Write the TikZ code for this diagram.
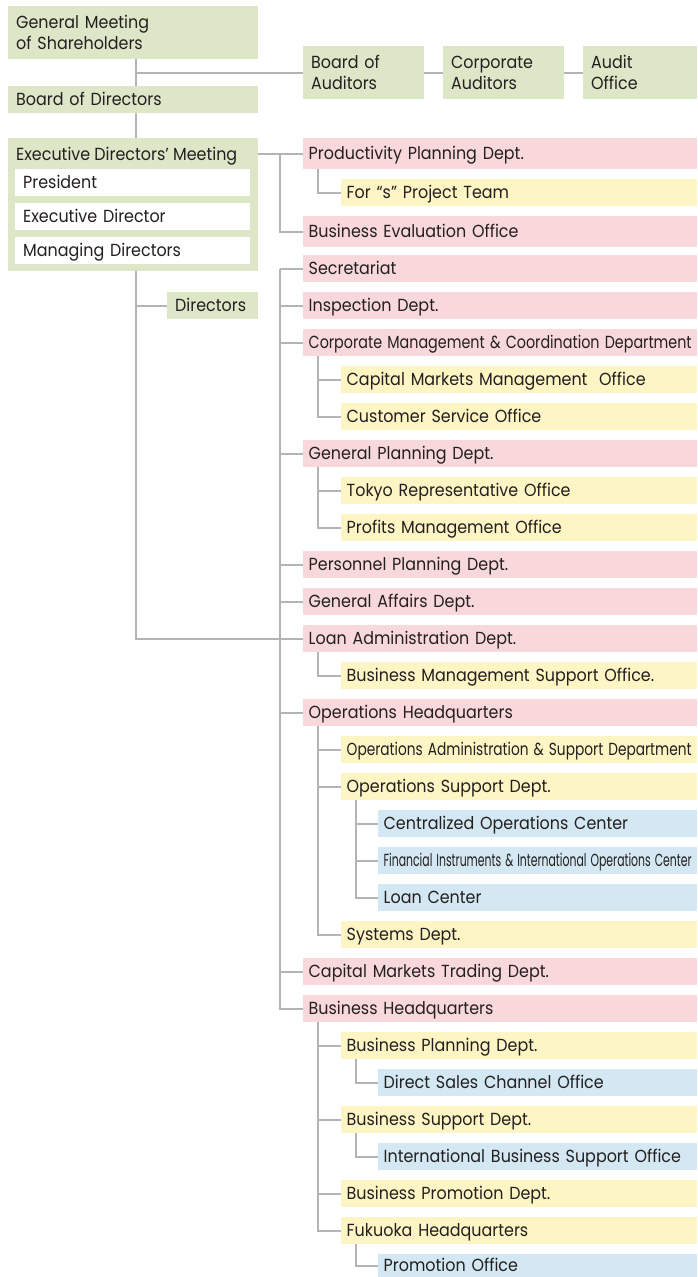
\documentclass[tikz,border=0pt]{standalone}
\usepackage{fontspec}
\setmainfont[FakeStretch=0.91]{Poppins}
\usepackage{graphicx}

\definecolor{greenc}{RGB}{222,230,200}
\definecolor{pinkc}{RGB}{249,216,220}
\definecolor{yellowc}{RGB}{254,245,196}
\definecolor{bluec}{RGB}{211,232,242}
\definecolor{linec}{RGB}{180,180,184}
\definecolor{txt}{RGB}{35,31,32}

% squeeze a label horizontally to a given width
\newcommand\fitto[2]{\resizebox{#1}{\height}{#2}}
% two-line label whose baseline is the first line
\newcommand\stackedtext[2]{\begin{tabular}[t]{@{}l@{}}#1\\#2\end{tabular}}

\begin{document}
\begin{tikzpicture}[x=1pt,y=-1pt,
  every node/.style={font=\fontsize{17.5}{21.5}\selectfont, text=txt},
  box/.style={anchor=north west, inner ysep=0pt, align=left,
    text height=12.2pt, text depth=0pt, minimum height=27pt},
  pinkbox/.style={box, fill=pinkc, inner xsep=5.5pt, text width=383pt},
  yellowbox/.style={box, fill=yellowc, inner xsep=5.5pt, text width=345pt},
  bluebox/.style={box, fill=bluec, inner xsep=5.5pt, text width=308pt},
  greenbox/.style={box, fill=greenc, inner xsep=8pt},
  whitebox/.style={box, fill=white, inner xsep=8pt, text width=219pt},
  twoline/.style={text depth=21.5pt, minimum height=53pt},
  conn/.style={draw=linec, line width=1.7pt}
]
\useasboundingbox (0,0) rectangle (697,1277);
\clip (0,0) rectangle (697,1277);

% ---------- governance column ----------
\coordinate (spine) at (136,0);
\coordinate (bus) at (280,0);

\node[greenbox, twoline, text width=234pt] (gm) at (8,6)
  {\stackedtext{General Meeting}{of Shareholders}};
\node[greenbox, text width=234pt] (bod) at (8,86) {Board of Directors};
\node[greenbox, text width=105pt, twoline] (boa) at (303,46)
  {\stackedtext{Board of}{Auditors}};
\node[greenbox, text width=105pt, twoline] (ca) at (443,46)
  {\stackedtext{Corporate}{Auditors}};
\node[greenbox, text width=98pt, twoline] (ao) at (583,46)
  {\stackedtext{Audit}{Office}};

\node[fill=greenc, anchor=north west, inner sep=0pt,
      minimum width=250pt, minimum height=133pt] (edm) at (8,138) {};
\node[anchor=west, inner sep=0pt, text height=12.2pt, text depth=0pt]
  (edmt) at (16,154) {Executive Directors' Meeting};
\node[whitebox] (pres) at (15,169) {President};
\node[whitebox] (exd) at (15,203) {Executive Director};
\node[whitebox] (mgd) at (15,237) {Managing Directors};
\node[greenbox, text width=75pt] (dir) at (167,292) {Directors};

% ---------- departments ----------
\node[pinkbox, minimum height=31pt] (pp) at (303,138) {Productivity Planning Dept.};
\node[yellowbox] (fst) at (341,179) {For “s” Project Team};
\node[pinkbox, minimum height=31pt] (beo) at (303,216) {Business Evaluation Office};

\node[pinkbox] (sec) at (303,255) {Secretariat};
\node[pinkbox] (insp) at (303,292) {Inspection Dept.};
\node[pinkbox] (cmc) at (303,329)
  {\fitto{383pt}{Corporate Management \& Coordination Department}};
\node[yellowbox] (cmm) at (341,366) {Capital Markets Management~ Office};
\node[yellowbox] (cso) at (341,403) {Customer Service Office};
\node[pinkbox] (gp) at (303,440) {General Planning Dept.};
\node[yellowbox] (tro) at (341,477) {Tokyo Representative Office};
\node[yellowbox] (pmo) at (341,514) {Profits Management Office};
\node[pinkbox] (ppd) at (303,551) {Personnel Planning Dept.};
\node[pinkbox] (gad) at (303,588) {General Affairs Dept.};
\node[pinkbox] (la) at (303,625) {Loan Administration Dept.};
\node[yellowbox] (bms) at (341,662) {Business Management Support Office.};
\node[pinkbox] (ohq) at (303,699) {Operations Headquarters};
\node[yellowbox] (oas) at (341,736)
  {\fitto{345pt}{Operations Administration \& Support Department}};
\node[yellowbox] (osd) at (341,773) {Operations Support Dept.};
\node[bluebox] (coc) at (378,810) {Centralized Operations Center};
\node[bluebox] (fio) at (378,847)
  {\fitto{308pt}{Financial Instruments \& International Operations Center}};
\node[bluebox] (lc) at (378,884) {Loan Center};
\node[yellowbox] (sys) at (341,921) {Systems Dept.};
\node[pinkbox] (cmt) at (303,958) {Capital Markets Trading Dept.};
\node[pinkbox] (bhq) at (303,995) {Business Headquarters};
\node[yellowbox] (bpd) at (341,1032) {Business Planning Dept.};
\node[bluebox] (dsc) at (378,1069) {Direct Sales Channel Office};
\node[yellowbox] (bsd) at (341,1106) {Business Support Dept.};
\node[bluebox] (ibs) at (378,1143) {International Business Support Office};
\node[yellowbox] (bpr) at (341,1180) {Business Promotion Dept.};
\node[yellowbox] (fhq) at (341,1217) {Fukuoka Headquarters};
\node[bluebox, minimum height=23pt] (po) at (378,1254) {Promotion Office};

% ---------- connectors ----------
\draw[conn] (gm.south -| spine) -- (bod.north -| spine);
\draw[conn] (spine |- boa.west) -- (boa.west);
\draw[conn] (boa.east) -- (ca.west);
\draw[conn] (ca.east) -- (ao.west);
\draw[conn] (bod.south -| spine) -- (edm.north -| spine);
\draw[conn] (edm.south -| spine) |- (la.west);
\draw[conn] (spine |- dir.west) -- (dir.west);

\draw[conn] (edm.east |- pp.west) -- (pp.west);
\draw[conn] (bus |- pp.west) |- (beo.west);
\draw[conn] ([xshift=15pt]pp.south west) |- (fst.west);

\draw[conn] (bus |- sec.west) |- (bhq.west);
\foreach \d in {sec,insp,cmc,gp,ppd,gad,ohq,cmt}
  \draw[conn] (bus |- \d.west) -- (\d.west);

\foreach \c in {cmm,cso} \draw[conn] ([xshift=15pt]cmc.south west) |- (\c.west);
\foreach \c in {tro,pmo} \draw[conn] ([xshift=15pt]gp.south west) |- (\c.west);
\draw[conn] ([xshift=15pt]la.south west) |- (bms.west);
\foreach \c in {oas,osd,sys} \draw[conn] ([xshift=15pt]ohq.south west) |- (\c.west);
\foreach \c in {coc,fio,lc} \draw[conn] ([xshift=15pt]osd.south west) |- (\c.west);
\foreach \c in {bpd,bsd,bpr,fhq} \draw[conn] ([xshift=15pt]bhq.south west) |- (\c.west);
\draw[conn] ([xshift=15pt]bpd.south west) |- (dsc.west);
\draw[conn] ([xshift=15pt]bsd.south west) |- (ibs.west);
\draw[conn] ([xshift=15pt]fhq.south west) |- (po.west);
\end{tikzpicture}
\end{document}
